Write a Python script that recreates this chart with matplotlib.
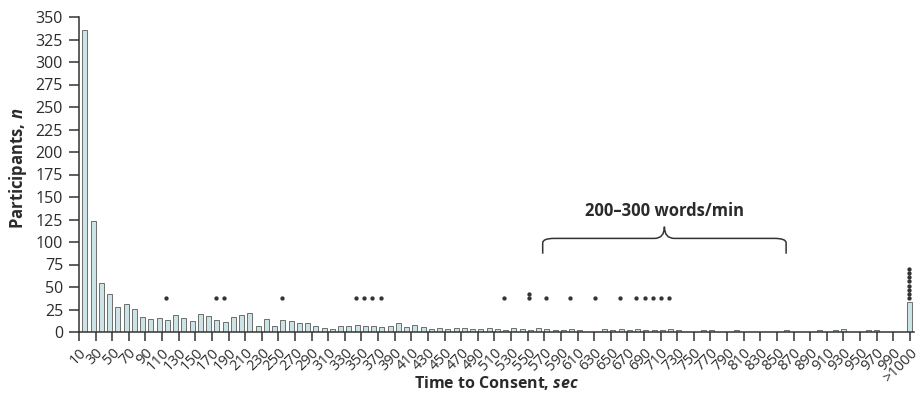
import numpy as np
import matplotlib.pyplot as plt
from matplotlib.path import Path
from matplotlib.patches import PathPatch

plt.rcParams['font.family'] = ['Open Sans', 'DejaVu Sans']
plt.rcParams['mathtext.fontset'] = 'custom'
plt.rcParams['mathtext.rm'] = 'Open Sans:bold'
plt.rcParams['mathtext.it'] = 'Open Sans:italic:bold'

# participants per 10-s bin: 10-20, 20-30, ..., 990-1000, then >1000
counts = [336, 123, 54, 42, 28, 31, 26, 17, 15, 16,
          13, 19, 16, 12, 20, 18, 13, 11, 17, 19,
          21, 7, 15, 7, 13, 12, 10, 10, 7, 4,
          3, 7, 7, 8, 7, 7, 6, 7, 10, 6,
          8, 6, 3, 4, 3, 4, 4, 3, 3, 5,
          3, 2, 4, 3, 2, 4, 3, 2, 2, 3,
          2, 0, 0, 3, 2, 3, 2, 3, 2, 2,
          2, 3, 2, 0, 0, 2, 2, 0, 0, 2,
          0, 0, 0, 0, 0, 2, 0, 0, 0, 2,
          0, 2, 3, 0, 0, 2, 2, 0, 0, 0,
          33]
tick_labels = [str(v) for v in range(10, 1000, 20)] + ['>1000']

# bins marked with dots, and how many dots are stacked there
dot_bins = [10, 16, 17, 24, 33, 34, 35, 36, 51, 54, 56, 59, 62, 65, 67, 68, 69, 70, 71, 100]
dot_counts = [1, 1, 1, 1, 1, 1, 1, 1, 1, 2, 1, 1, 1, 1, 1, 1, 1, 1, 1, 8]

brace_from, brace_to = 55.5, 85.0
brace_text = '200\u2013300 words/min'

text_c = '#2b2b2b'
fig = plt.figure(figsize=(9.24, 3.99), dpi=100)
ax = fig.add_axes([79 / 924, 1 - 332 / 399, (914 - 79) / 924, (332 - 17) / 399])

x = np.arange(len(counts))
ax.bar(x, counts, width=0.6, color='#cde4e7', edgecolor='#5a5a5a', linewidth=0.6)

for b, n in zip(dot_bins, dot_counts):
    ys = 37.5 + 4.7 * np.arange(n)
    ax.plot([b - 0.15] * n, ys, ls='none', marker='o', ms=2.1, color='#333333')

# curly brace over the 200-300 words/min range
lo, mid, hi = brace_from, (brace_from + brace_to) / 2, brace_to
yb, yh, yp = 87, 104, 117
verts = [(lo, yb), (lo, yh - 5), (lo, yh), (lo + 1.4, yh),
         (mid - 1.2, yh), (mid, yh), (mid, yp),
         (mid, yh), (mid + 1.2, yh),
         (hi - 1.4, yh), (hi, yh), (hi, yh - 5), (hi, yb)]
codes = [Path.MOVETO, Path.LINETO, Path.CURVE3, Path.CURVE3,
         Path.LINETO, Path.CURVE3, Path.CURVE3,
         Path.CURVE3, Path.CURVE3,
         Path.LINETO, Path.CURVE3, Path.CURVE3, Path.LINETO]
ax.add_patch(PathPatch(Path(verts, codes), fill=False, lw=1.1, ec='#333333'))
ax.text(mid, 135, brace_text, ha='center', va='center', fontsize=12,
        fontweight='bold', color=text_c)

ax.set_xlim(-0.7, 100.5)
ax.set_ylim(0, 350)
ax.set_yticks(np.arange(0, 351, 25))
ax.set_xticks(np.linspace(-0.7, 100.0, len(tick_labels)))
ax.set_xticklabels(tick_labels, rotation=45, ha='right', va='top',
                   rotation_mode='anchor', fontsize=10.5, color=text_c)
ax.tick_params(axis='y', labelsize=11.5, labelcolor=text_c, length=7.5,
               width=1.1, color='#333333', pad=4)
ax.tick_params(axis='x', length=6.5, width=1.1, color='#333333', pad=3)
for s in ['top', 'right']:
    ax.spines[s].set_visible(False)
for s in ['left', 'bottom']:
    ax.spines[s].set_color('#333333')
    ax.spines[s].set_linewidth(1.1)

fig.text(18 / 924, 1 - 168 / 399, 'Participants, $n$', rotation=90,
         ha='center', va='center', fontsize=12, fontweight='bold', color=text_c)
fig.text(497 / 924, 1 - 383 / 399, 'Time to Consent, $sec$',
         ha='center', va='center', fontsize=11.5, fontweight='bold', color=text_c)

fig.savefig('out.png', dpi=100)
